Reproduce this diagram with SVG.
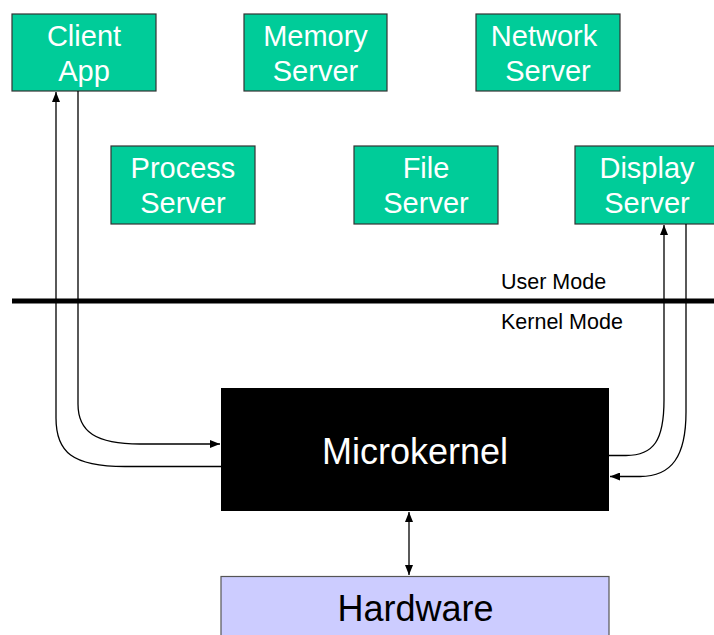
<svg xmlns="http://www.w3.org/2000/svg" width="714" height="635" viewBox="0 0 714 635">
<defs>
<style>
.box{fill:#00CC99;stroke:#333333;stroke-width:1.2}
.bt{font-family:"Liberation Sans",Arial,sans-serif;font-size:29px;fill:#ffffff;text-anchor:middle}
.lbl{font-family:"Liberation Sans",Arial,sans-serif;font-size:21.5px;fill:#000000}
.big{font-family:"Liberation Sans",Arial,sans-serif;font-size:36px;text-anchor:middle}
.conn{fill:none;stroke:#000000;stroke-width:1.3}
</style>
<marker id="ah" viewBox="0 0 10 8" refX="10" refY="4" markerWidth="10" markerHeight="8" markerUnits="userSpaceOnUse" orient="auto-start-reverse">
<path d="M0,0 L10,4 L0,8 Z" fill="#000000"/>
</marker>
</defs>
<rect width="714" height="635" fill="#ffffff"/>
<g id="client-app"><rect class="box" x="12" y="14" width="144" height="77"/><text class="bt" x="84" y="46">Client</text><text class="bt" x="84" y="81">App</text></g>
<g id="memory-server"><rect class="box" x="244" y="14" width="143" height="77"/><text class="bt" x="315.5" y="46">Memory</text><text class="bt" x="315.5" y="81">Server</text></g>
<g id="network-server"><rect class="box" x="476" y="14" width="144" height="77"/><text class="bt" x="544" y="46">Network</text><text class="bt" x="548" y="81">Server</text></g>
<g id="process-server"><rect class="box" x="111" y="146" width="144" height="78"/><text class="bt" x="183" y="177.5">Process</text><text class="bt" x="183" y="212.5">Server</text></g>
<g id="file-server"><rect class="box" x="354" y="146" width="144" height="78"/><text class="bt" x="426" y="177.5">File</text><text class="bt" x="426" y="212.5">Server</text></g>
<g id="display-server"><rect class="box" x="575" y="146" width="144" height="78"/><text class="bt" x="647" y="177.5">Display</text><text class="bt" x="647" y="212.5">Server</text></g>
<g id="mode-divider"><rect x="12" y="298.5" width="702" height="5" fill="#000000"/><text class="lbl" x="501" y="289">User Mode</text><text class="lbl" x="501" y="328.5">Kernel Mode</text></g>
<g id="microkernel"><rect x="221" y="388" width="388" height="123" fill="#000000"/><text class="big" x="415" y="463.5" fill="#ffffff">Microkernel</text></g>
<g id="hardware"><rect x="221" y="576.5" width="388" height="70" fill="#CCCCFF" stroke="#555555" stroke-width="1.2"/><text class="big" x="415.5" y="620.5" fill="#000000">Hardware</text></g>
<g id="connectors">
<path class="conn" d="M221,466.5 L125,466.5 C72,466.5 56,452 56,418 L56,92" marker-end="url(#ah)"/>
<path class="conn" d="M78,91 L78,404 C78,432 96,444 140,444 L220,444" marker-end="url(#ah)"/>
<path class="conn" d="M609,455.5 L626,455.5 C654,455.5 664,440 664,400 L664,225" marker-end="url(#ah)"/>
<path class="conn" d="M686,224 L686,412 C686,456 672,476.5 640,476.5 L610,476.5" marker-end="url(#ah)"/>
<path class="conn" d="M409,512 L409,575" marker-start="url(#ah)" marker-end="url(#ah)"/>
</g>
</svg>
